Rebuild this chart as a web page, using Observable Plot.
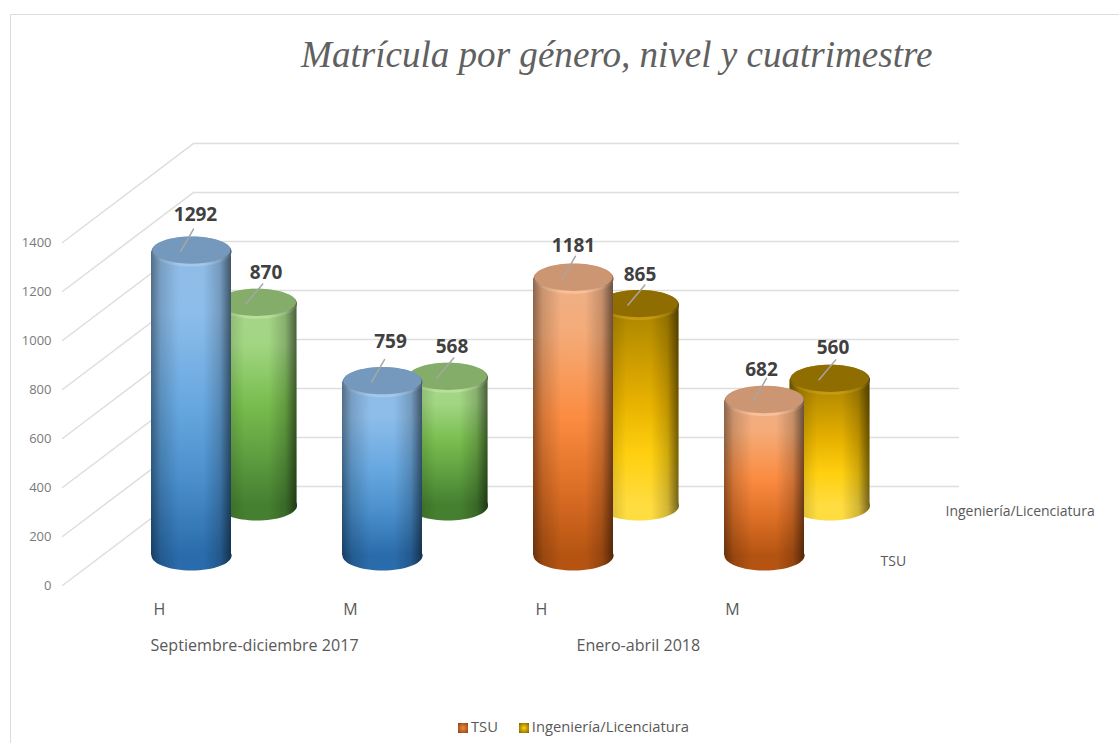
<!DOCTYPE html>
<html lang="es">
<head>
<meta charset="utf-8">
<script src="https://cdn.jsdelivr.net/npm/d3@7"></script>
<script src="https://cdn.jsdelivr.net/npm/@observablehq/plot@0.6"></script>
<style>
  html, body { margin: 0; padding: 0; background: #fff; overflow: hidden; }
  #page { position: relative; width: 1119px; height: 743px; font-family: "Open Sans", sans-serif; }
  #frame { position: absolute; left: 10px; top: 14px; right: 0; bottom: 0; border-left: 1.5px solid #dcdcdc; border-top: 1.5px solid #dcdcdc; }
  #title { position: absolute; left: 301px; top: 33px; font: italic 37.1px "Liberation Serif", serif; color: #606060; white-space: nowrap; }
  #legend { position: absolute; top: 716px; left: 458px; font-size: 14.75px; line-height: 20px; color: #595959; white-space: nowrap; }
  #legend i { display: inline-block; width: 10px; height: 10px; vertical-align: -1px; margin-right: 3px; }
  #legend span + span { margin-left: 17px; }
  #plot { position: absolute; left: 0; top: 0; }
</style>
</head>
<body>
<div id="page">
  <div id="frame"></div>
  <div id="plot"></div>
  <div id="title">Matrícula por género, nivel y cuatrimestre</div>
  <div id="legend">
    <span><i style="background:radial-gradient(#f08a3c,#8a3f10)"></i>TSU</span>
    <span><i style="background:radial-gradient(#ffd010,#7a5c00)"></i>Ingeniería/Licenciatura</span>
  </div>
</div>
<script>
const slots = ["sep-H", "sep-M", "ene-H", "ene-M"];
const genders = ["H", "M", "H", "M"];
const periods = ["Septiembre-diciembre 2017", "Enero-abril 2018"];
const tsuValues = [1292, 759, 1181, 682];
const ingValues = [870, 568, 865, 560];
const yTicks = [0, 200, 400, 600, 800, 1000, 1200, 1400];
const seriesNames = ["TSU", "Ingeniería/Licenciatura"];

const rows = (values) => values.map((value, i) => ({slot: slots[i], gender: genders[i], value}));
const tsuRows = rows(tsuValues);
const ingRows = rows(ingValues);

// Cylinder looks: [top, upper, middle, lower, bottom] body stops, then cap face and rim
const looks = {
  blue:   {stops: ["#8fbce6", "#8dbdea", "#68a8e0", "#4a8fcc", "#2a6cab"], face: "#7499bc", rim: "#a3c8ec"},
  green:  {stops: ["#a5d586", "#a2d683", "#78bd4e", "#5f9f40", "#457f30"], face: "#84ad6a", rim: "#b6e09b"},
  orange: {stops: ["#eeb088", "#f4ab78", "#fb8c42", "#de7026", "#b55412"], face: "#cc9672", rim: "#f8bf98"},
  gold:   {stops: ["#a88200", "#c29500", "#e9b300", "#ffd010", "#ffdc40"], face: "#8f6d00", rim: "#c49a10"}
};

const defs = () => {
  const sel = d3.create("svg:defs");
  for (const [id, look] of Object.entries(looks)) {
    const g = sel.append("linearGradient").attr("id", id).attr("x1", 0).attr("x2", 0).attr("y1", 0).attr("y2", 1);
    [0, 0.2, 0.5, 0.75, 1].forEach((o, i) => g.append("stop").attr("offset", o).attr("stop-color", look.stops[i]));
  }
  const edge = sel.append("linearGradient").attr("id", "edge");
  [[0, 0.42], [0.12, 0.16], [0.35, 0], [0.65, 0], [0.86, 0.18], [1, 0.55]].forEach(([o, a]) =>
    edge.append("stop").attr("offset", o).attr("stop-color", "#000").attr("stop-opacity", a));
  return sel.node();
};

// Ellipse symbol for the cylinder ends; the size comes from the dot radius
const ellipse = (ratio) => ({
  draw(ctx, size) {
    const rx = Math.sqrt(size / Math.PI), ry = rx * ratio, k = 0.5523;
    ctx.moveTo(-rx, 0);
    ctx.bezierCurveTo(-rx, -k * ry, -k * rx, -ry, 0, -ry);
    ctx.bezierCurveTo(k * rx, -ry, rx, -k * ry, rx, 0);
    ctx.bezierCurveTo(rx, k * ry, k * rx, ry, 0, ry);
    ctx.bezierCurveTo(-k * rx, ry, -rx, k * ry, -rx, 0);
    ctx.closePath();
  }
});
const stroke1 = {
  draw(ctx, l) { ctx.moveTo(0, 0); ctx.lineTo(0, -l); }
};

function cylinder(data, look, dx, dy, baseInset) {
  const base = {x: "slot", dx};
  const zero = () => 0;
  return [
    Plot.dot(data, {...base, y: zero, dy: dy - baseInset, r: 40, symbol: ellipse(0.375), fill: looks[look].stops[4]}),
    Plot.dot(data, {...base, y: zero, dy: dy - baseInset, r: 40, symbol: ellipse(0.375), fill: "url(#edge)"}),
    Plot.barY(data, {...base, y: "value", dy, insetBottom: baseInset, fill: `url(#${look})`}),
    Plot.barY(data, {...base, y: "value", dy, insetBottom: baseInset, fill: "url(#edge)"}),
    Plot.dot(data, {...base, y: "value", dy, r: 40, symbol: ellipse(0.375), fill: looks[look].rim}),
    Plot.dot(data, {...base, y: "value", dy, r: 40, symbol: ellipse(0.375), fill: "url(#edge)"}),
    Plot.dot(data, {...base, y: "value", dy: dy - 1.5, r: 39, symbol: ellipse(0.35), fill: looks[look].face})
  ];
}

const TSU = {dx: 0, dy: -17.4, inset: 12.6, angle: 30};
const ING = {dx: 65.5, dy: -68.5, inset: 11.5, angle: 40};

const labelNudge = [
  {tsu: [4, -37], ing: [9, -30.5]},
  {tsu: [8, -40], ing: [4, -30.5]},
  {tsu: [0, -33], ing: [1, -30.5]},
  {tsu: [-3, -31], ing: [3, -31.5]}
];

const labelMarks = (data, s, key) => [
  Plot.vector(data, {x: "slot", y: "value", dx: s.dx - 11, dy: s.dy, rotate: s.angle, length: 26, anchor: "start",
    shape: stroke1, stroke: "#a6a6a6", strokeWidth: 1.5}),
  ...data.map((d, i) => Plot.text([d], {x: "slot", y: "value", text: (r) => String(r.value),
    dx: s.dx + labelNudge[i][key][0], dy: s.dy + labelNudge[i][key][1],
    fontSize: 19, fontWeight: 700, fill: "#404040"}))
];

const chart = Plot.plot({
  width: 1119, height: 743,
  marginLeft: 62, marginRight: 160, marginTop: 0, marginBottom: 0,
  style: {background: "transparent", fontFamily: '"Open Sans", sans-serif'},
  x: {type: "band", domain: slots, range: [150, 804], paddingInner: 0.582, paddingOuter: 0, axis: null},
  y: {type: "linear", domain: [0, 1400], range: [585, 242], axis: null},
  marks: [
    defs,
    Plot.ruleY(yTicks, {dy: -99, insetLeft: 131, stroke: "#dedede", strokeWidth: 1.5}),
    Plot.vector(yTicks, {y: (d) => d, frameAnchor: "left", anchor: "start", rotate: 52.9, length: 164,
      shape: stroke1, stroke: "#dedede", strokeWidth: 1.5}),
    Plot.text(yTicks, {y: (d) => d, text: (d) => String(d), frameAnchor: "left", textAnchor: "end", dx: -11, dy: 0,
      fontSize: 13, fill: "#7a7a7a"}),
    ...cylinder(ingRows.slice(0, 2), "green", ING.dx, ING.dy, ING.inset),
    ...cylinder(ingRows.slice(2), "gold", ING.dx, ING.dy, ING.inset),
    ...cylinder(tsuRows.slice(0, 2), "blue", TSU.dx, TSU.dy, TSU.inset),
    ...cylinder(tsuRows.slice(2), "orange", TSU.dx, TSU.dy, TSU.inset),
    ...labelMarks(tsuRows, TSU, "tsu"),
    ...labelMarks(ingRows, ING, "ing"),
    Plot.text(tsuRows, {x: "slot", y: () => 0, text: "gender", dx: -32, dy: 24, fontSize: 16, fill: "#595959"}),
    Plot.text([periods[0]], {x: () => slots[0], y: () => 0, text: (d) => d, textAnchor: "start", dx: -41, dy: 60, fontSize: 16.1, fill: "#595959"}),
    Plot.text([periods[1]], {x: () => slots[2], y: () => 0, text: (d) => d, textAnchor: "start", dx: 3, dy: 60, fontSize: 16.1, fill: "#595959"}),
    Plot.text([seriesNames[0]], {x: () => slots[3], y: () => 0, text: (d) => d, textAnchor: "start", dx: 116, dy: -24, fontSize: 14, fill: "#595959"}),
    Plot.text([seriesNames[1]], {x: () => slots[3], y: () => 0, text: (d) => d, textAnchor: "start", dx: 181, dy: -74, fontSize: 14, fill: "#595959"})
  ]
});
document.getElementById("plot").append(chart);
</script>
</body>
</html>
